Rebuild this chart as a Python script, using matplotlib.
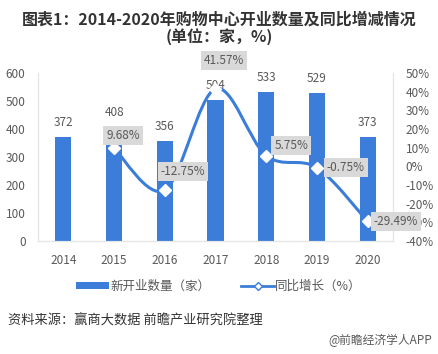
import matplotlib
matplotlib.use("Agg")

import matplotlib.pyplot as plt
from matplotlib.path import Path
from matplotlib.patches import PathPatch, Patch
from matplotlib.lines import Line2D
import numpy as np

plt.rcParams["font.family"] = ["Noto Sans CJK SC", "DejaVu Sans"]

# ── Data ───────────────────────────────────────────────────────────────────────
years = ["2014", "2015", "2016", "2017", "2018", "2019", "2020"]
openings = [372, 408, 356, 504, 533, 529, 373]
growth_years = ["2015", "2016", "2017", "2018", "2019", "2020"]
growth = [9.68, -12.75, 41.57, 5.75, -0.75, -29.49]

BLUE = "#3b7dd8"
GREY = "#595959"

fig = plt.figure(figsize=(4.38, 3.54), dpi=100)
ax = fig.add_axes([38 / 438, 113 / 354, 355 / 438, 168 / 354])
ax2 = ax.twinx()

x = np.arange(len(years))
ax.bar(x, openings, width=0.32, color=BLUE, zorder=2)
for xi, v in zip(x, openings):
    ax.annotate(str(v), (xi, v), xytext=(0, 8), textcoords="offset pixels",
                ha="center", va="bottom", fontsize=8.5, color=GREY)

ax.set_xlim(-0.5, len(years) - 0.5)
ax.set_ylim(0, 600)
ax.set_yticks(range(0, 601, 100))
ax.set_xticks(x)
ax.set_xticklabels(years)
ax.tick_params(axis="both", length=0, labelsize=8.5, colors=GREY)
ax.tick_params(axis="y", pad=9)
ax.tick_params(axis="x", pad=9)

ax2.set_ylim(-40, 50)
ax2.set_yticks(range(-40, 51, 10))
ax2.set_yticklabels([f"{t}%" for t in range(-40, 51, 10)])
ax2.tick_params(axis="y", length=0, labelsize=8.5, colors=GREY, pad=9)

for a in (ax, ax2):
    for side, sp in a.spines.items():
        sp.set_visible(side in ("bottom", "left", "right"))
        sp.set_color("#e6e6e6")
ax.spines["bottom"].set_color("#d0d0d0")

# Smoothed line (Excel-style bezier through the points)
gx = np.array([years.index(y) for y in growth_years], dtype=float)
gy = np.array(growth, dtype=float)
verts = [(gx[0], gy[0])]
codes = [Path.MOVETO]
n = len(gx)
for i in range(n - 1):
    p0 = (gx[max(i - 1, 0)], gy[max(i - 1, 0)])
    p1 = (gx[i], gy[i])
    p2 = (gx[i + 1], gy[i + 1])
    p3 = (gx[min(i + 2, n - 1)], gy[min(i + 2, n - 1)])
    c1 = (p1[0] + (p2[0] - p0[0]) / 6, p1[1] + (p2[1] - p0[1]) / 6)
    c2 = (p2[0] - (p3[0] - p1[0]) / 6, p2[1] - (p3[1] - p1[1]) / 6)
    verts += [c1, c2, p2]
    codes += [Path.CURVE4] * 3
ax2.add_patch(PathPatch(Path(verts, codes), facecolor="none", edgecolor=BLUE,
                        lw=2.2, zorder=3))
ax2.plot(gx, gy, linestyle="none", marker="D", markersize=6,
         markerfacecolor="white", markeredgecolor="white", zorder=4)

offsets = [(-8, 6), (-4, 12), (-12, 22), (8, 4), (10, 0), (6, 0)]
for xi, v, off in zip(gx, gy, offsets):
    ax2.annotate(f"{v:.2f}%", (xi, v), xytext=off, textcoords="offset pixels",
                 ha="left", va="bottom" if off[1] > 2 else "center",
                 fontsize=8.5, color=GREY, zorder=5,
                 bbox=dict(boxstyle="square,pad=0.25", facecolor="#d9d9d9",
                           edgecolor="none"))

fig.text(0.5, 1 - 20 / 354, "图表1：2014-2020年购物中心开业数量及同比增减情况",
         ha="center", va="center", fontsize=11.5, fontweight="bold", color="#333333")
fig.text(0.5, 1 - 37 / 354, "(单位：家，%)", ha="center", va="center",
         fontsize=11.5, fontweight="bold", color="#333333")

handles = [Patch(facecolor=BLUE, edgecolor="none"),
           Line2D([0], [0], color=BLUE, lw=2, marker="D", markersize=4,
                  markerfacecolor="white", markeredgecolor=BLUE)]
fig.legend(handles, ["新开业数量（家）", "同比增长（%）"], loc="center",
           bbox_to_anchor=(0.5, 1 - 286 / 354), ncol=2, frameon=False,
           fontsize=9, labelcolor=GREY, handlelength=2.6, handleheight=0.5,
           columnspacing=2.5, handletextpad=0.1)

fig.text(8 / 438, 1 - 321 / 354, "资料来源：赢商大数据 前瞻产业研究院整理",
         ha="left", va="center", fontsize=9.5, color="#333333")
fig.text(432 / 438, 1 - 340 / 354, "@前瞻经济学人APP",
         ha="right", va="center", fontsize=8.5, color=GREY)

fig.savefig("out.png", dpi=100)
